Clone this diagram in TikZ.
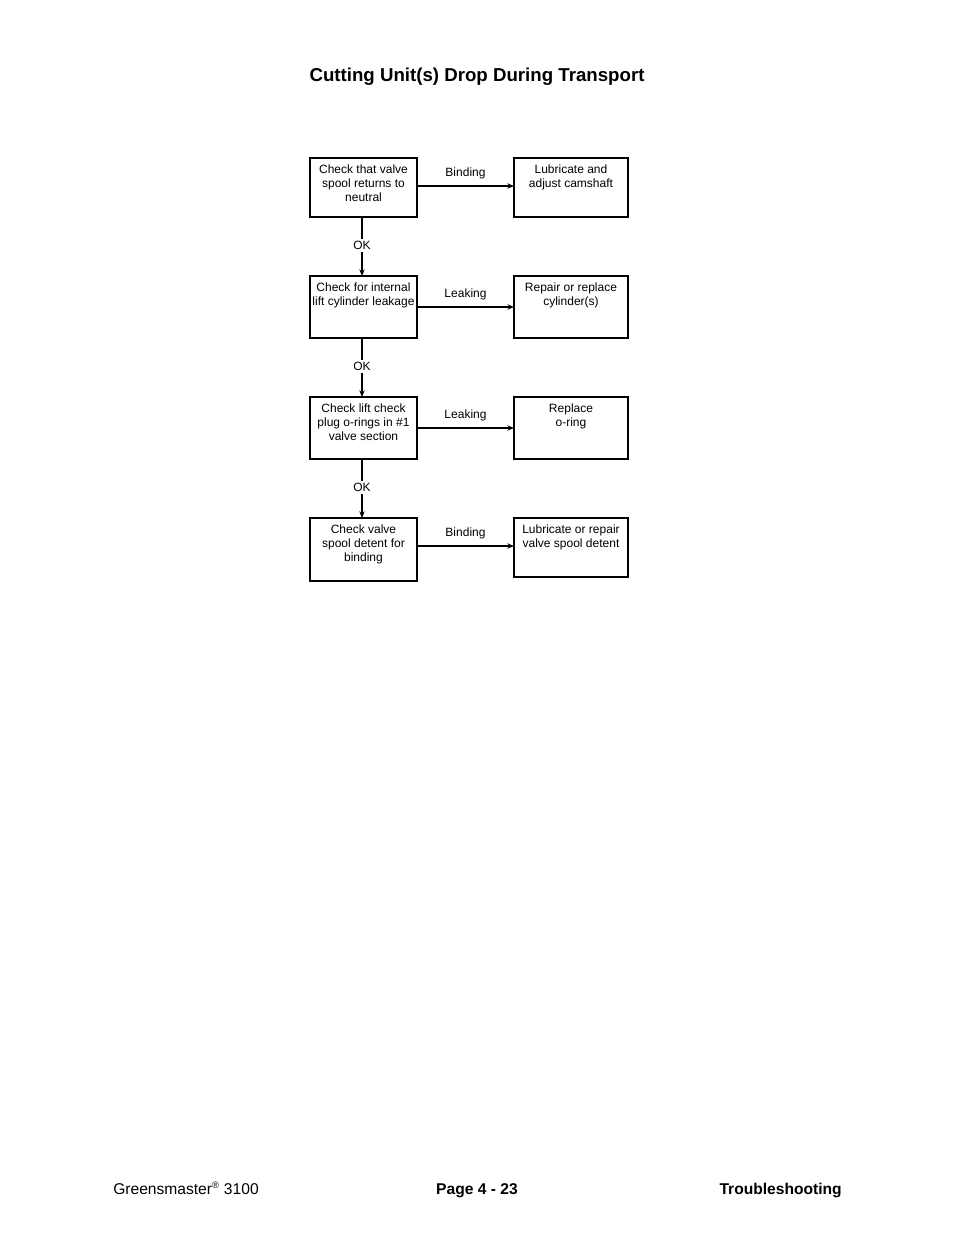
\documentclass[tikz,border=0pt]{standalone}
\usepackage{fontspec}
\setmainfont{Liberation Sans}
\usetikzlibrary{arrows.meta}
\tikzset{
  box/.style={draw, line width=1.1pt, inner sep=0pt},
  boxtext/.style={font=\fontsize{9}{10.5}\selectfont, align=center, anchor=north, inner sep=0pt},
  flow/.style={line width=0.9pt, -{Stealth[length=5pt,width=4pt]}},
  tag/.style={font=\fontsize{9}{10.5}\selectfont, fill=white, inner sep=1.5pt},
  side/.style={font=\fontsize{9}{10.5}\selectfont, above=1.5pt},
  foot/.style={font=\fontsize{11.7}{14}\selectfont, anchor=base, inner sep=0pt}
}
\begin{document}
\begin{tikzpicture}[x=0.75pt,y=-0.75pt]
  \useasboundingbox (0,0) rectangle (954,1235);

  % title and footer
  \node[font=\fontsize{14}{16}\selectfont\bfseries] (title) at (477,77) {Cutting Unit(s) Drop During Transport};
  \node[foot, anchor=base west] (foot1) at (113,1194) {Greensmaster\textsuperscript{\scriptsize\textregistered} 3100};
  \node[foot, font=\fontsize{11.7}{14}\selectfont\bfseries] (foot2) at (477,1194) {Page 4 - 23};
  \node[foot, font=\fontsize{11.7}{14}\selectfont\bfseries, anchor=base east] (foot3) at (842,1194) {Troubleshooting};

  % left column
  \draw[box] (310,158) rectangle (417,217);
  \draw[box] (310,276) rectangle (417,338);
  \draw[box] (310,397) rectangle (417,459);
  \draw[box] (310,518) rectangle (417,581);
  \node[boxtext] (c1) at (363.5,165) {Check that valve\\spool returns to\\neutral};
  \node[boxtext] (c2) at (363.5,283) {Check for internal\\lift cylinder leakage};
  \node[boxtext] (c3) at (363.5,404) {Check lift check\\plug o-rings in \#1\\valve section};
  \node[boxtext] (c4) at (363.5,525) {Check valve\\spool detent for\\binding};

  % right column
  \draw[box] (514,158) rectangle (628,217);
  \draw[box] (514,276) rectangle (628,338);
  \draw[box] (514,397) rectangle (628,459);
  \draw[box] (514,518) rectangle (628,577);
  \node[boxtext] (r1) at (571,165) {Lubricate and\\adjust camshaft};
  \node[boxtext] (r2) at (571,283) {Repair or replace\\cylinder(s)};
  \node[boxtext] (r3) at (571,404) {Replace\\o-ring};
  \node[boxtext] (r4) at (571,525) {Lubricate or repair\\valve spool detent};

  % coordinates of connector ends
  \coordinate (b1) at (362,217); \coordinate (t2) at (362,276);
  \coordinate (b2) at (362,338); \coordinate (t3) at (362,397);
  \coordinate (b3) at (362,459); \coordinate (t4) at (362,518);
  \coordinate (e1) at (417,186); \coordinate (f1) at (514,186);
  \coordinate (e2) at (417,307); \coordinate (f2) at (514,307);
  \coordinate (e3) at (417,428); \coordinate (f3) at (514,428);
  \coordinate (e4) at (417,546); \coordinate (f4) at (514,546);

  % OK connectors
  \draw[flow] (b1) -- node[tag, pos=0.48] {OK} (t2);
  \draw[flow] (b2) -- node[tag, pos=0.48] {OK} (t3);
  \draw[flow] (b3) -- node[tag, pos=0.48] {OK} (t4);

  % side connectors
  \draw[flow] (e1) -- node[side] {Binding} (f1);
  \draw[flow] (e2) -- node[side] {Leaking} (f2);
  \draw[flow] (e3) -- node[side] {Leaking} (f3);
  \draw[flow] (e4) -- node[side] {Binding} (f4);
\end{tikzpicture}
\end{document}
